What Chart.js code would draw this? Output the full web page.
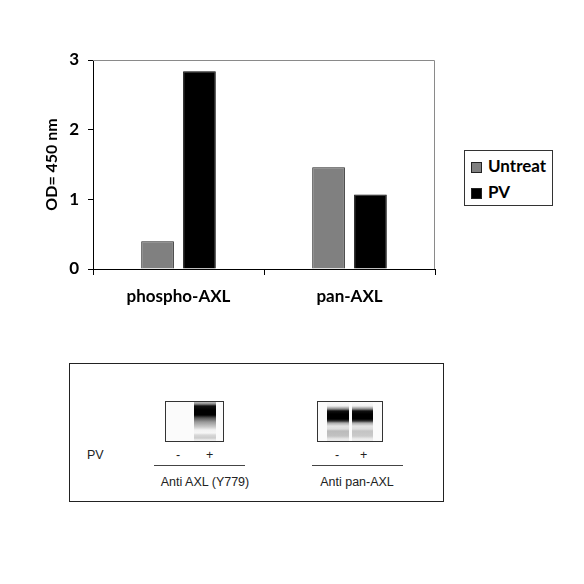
<!DOCTYPE html>
<html>
<head>
<meta charset="utf-8">
<script src="https://cdn.jsdelivr.net/npm/chart.js@4"></script>
<style>
  html, body { margin: 0; padding: 0; background: #fff; }
  body { width: 584px; height: 584px; position: relative; overflow: hidden; }
  #wrap { position: absolute; left: 0; top: 0; width: 445px; height: 320px; }
  #legend { position: absolute; left: 464px; top: 150px; width: 89px; height: 56px; border: 1px solid #333; box-sizing: border-box; font-family: Lato, "DejaVu Sans", sans-serif; font-weight: bold; font-size: 17px; color: #000; }
  .li { position: absolute; left: 6px; height: 20px; line-height: 20px; }
  .sw { position: absolute; left: 0; top: 5px; width: 11px; height: 11px; border: 1px solid #222; box-sizing: border-box; }
  .lt { position: absolute; left: 17px; top: -1px; white-space: nowrap; }
  #inset { position: absolute; left: 69px; top: 363px; width: 375px; height: 139px; border: 1px solid #222; box-sizing: border-box; font-family: "Liberation Sans", Arial, sans-serif; font-size: 12.5px; color: #222; }
  .blot { position: absolute; top: 37px; height: 41px; border: 1.5px solid #333; box-sizing: border-box; background: #fbfbfb; }
  .lane { position: absolute; top: 0; height: 100%; }
  .t { position: absolute; white-space: nowrap; }
  .ln { position: absolute; height: 1px; background: #444; }
</style>
</head>
<body>
<div id="wrap"><canvas id="c"></canvas></div>
<div id="legend"></div>
<div id="inset">
  <div class="blot" style="left:95px;width:59px;">
    <div class="lane" style="left:28px;width:22px;background:linear-gradient(to bottom,#bbb 0px,#888 2px,#111 4px,#000 8px,#000 13px,#555 16px,#999 20px,#ccc 25px,#f2f2f2 28px,#f6f6f6 31px,#d8d8d8 33px,#ccc 36px,#eee 38px);"></div>
  </div>
  <div class="blot" style="left:247px;width:66px;">
    <div class="lane" style="left:9px;width:22px;background:linear-gradient(to bottom,#fbfbfb 0px,#f0f0f0 4px,#888 7px,#111 9px,#000 12px,#000 17px,#333 19px,#aaa 21px,#e4e4e4 24px,#ddd 27px,#bbb 29px,#c2c2c2 34px,#e8e8e8 37px);"></div>
    <div class="lane" style="left:34px;width:21px;background:linear-gradient(to bottom,#fbfbfb 0px,#f0f0f0 4px,#888 7px,#111 9px,#000 12px,#000 17px,#333 19px,#aaa 21px,#e4e4e4 24px,#ddd 27px,#c4c4c4 29px,#cacaca 34px,#ececec 37px);"></div>
  </div>
  <div class="t" style="left:17px;top:84px;">PV</div>
  <div class="t" style="left:106px;top:84px;">-</div>
  <div class="t" style="left:136px;top:84px;">+</div>
  <div class="ln" style="left:84px;top:101px;width:91px;"></div>
  <div class="t" style="left:135px;top:111px;transform:translateX(-50%);">Anti AXL (Y779)</div>
  <div class="t" style="left:265px;top:84px;">-</div>
  <div class="t" style="left:290px;top:84px;">+</div>
  <div class="ln" style="left:242px;top:101px;width:91px;"></div>
  <div class="t" style="left:287px;top:111px;transform:translateX(-50%);">Anti pan-AXL</div>
</div>
<script>
const categories = ["phospho-AXL", "pan-AXL"];
const seriesNames = ["Untreat", "PV"];
const untreatValues = [0.40, 1.46];
const pvValues = [2.84, 1.07];
const yTicks = [0, 1, 2, 3];
const seriesColors = ["#808080", "#000000"];

const FONT = "Lato, 'DejaVu Sans', sans-serif";

const frame = {
  id: 'frame',
  afterDraw(chart) {
    const a = chart.chartArea, ctx = chart.ctx;
    ctx.save();
    ctx.strokeStyle = '#8a8a8a';
    ctx.lineWidth = 1;
    ctx.beginPath();
    ctx.moveTo(a.left, a.top + 0.5);
    ctx.lineTo(a.right - 0.5, a.top + 0.5);
    ctx.lineTo(a.right - 0.5, a.bottom);
    ctx.stroke();
    ctx.restore();
  }
};

new Chart(document.getElementById('c'), {
  type: 'bar',
  data: {
    labels: categories,
    datasets: [
      { label: seriesNames[0], data: untreatValues, backgroundColor: seriesColors[0], borderColor: '#222', borderWidth: 1, categoryPercentage: 0.49, barPercentage: 0.78 },
      { label: seriesNames[1], data: pvValues, backgroundColor: seriesColors[1], borderColor: '#000', borderWidth: 1, categoryPercentage: 0.49, barPercentage: 0.78 }
    ]
  },
  options: {
    responsive: true,
    maintainAspectRatio: false,
    animation: false,
    layout: { padding: { left: 0, top: 60, right: 10, bottom: 0 } },
    plugins: { legend: { display: false }, tooltip: { enabled: false } },
    scales: {
      x: {
        grid: { offset: true, drawOnChartArea: false, drawTicks: true, tickLength: 6, color: '#000' },
        border: { color: '#000', width: 1 },
        ticks: { color: '#000', font: { family: FONT, size: 17, weight: 'bold' }, padding: 11 },
        afterFit(s) { s.height = 51; }
      },
      y: {
        min: 0, max: 3,
        afterBuildTicks(s) { s.ticks = yTicks.map(v => ({ value: v })); },
        grid: { drawOnChartArea: false, drawTicks: true, tickLength: 5, color: '#000' },
        border: { color: '#000', width: 1 },
        ticks: { color: '#000', font: { family: FONT, size: 17, weight: 'bold' }, padding: 9 },
        title: { display: true, text: 'OD= 450 nm', color: '#000', font: { family: FONT, size: 16, weight: 'bold' }, padding: { top: 42, bottom: 0 } },
        afterFit(s) { s.width = 93; }
      }
    }
  },
  plugins: [frame]
});

const legend = document.getElementById('legend');
seriesNames.forEach((name, i) => {
  const li = document.createElement('div');
  li.className = 'li';
  li.style.top = (6 + i * 26) + 'px';
  li.innerHTML = '<span class="sw" style="background:' + seriesColors[i] + '"></span><span class="lt">' + name + '</span>';
  legend.appendChild(li);
});
</script>
</body>
</html>
